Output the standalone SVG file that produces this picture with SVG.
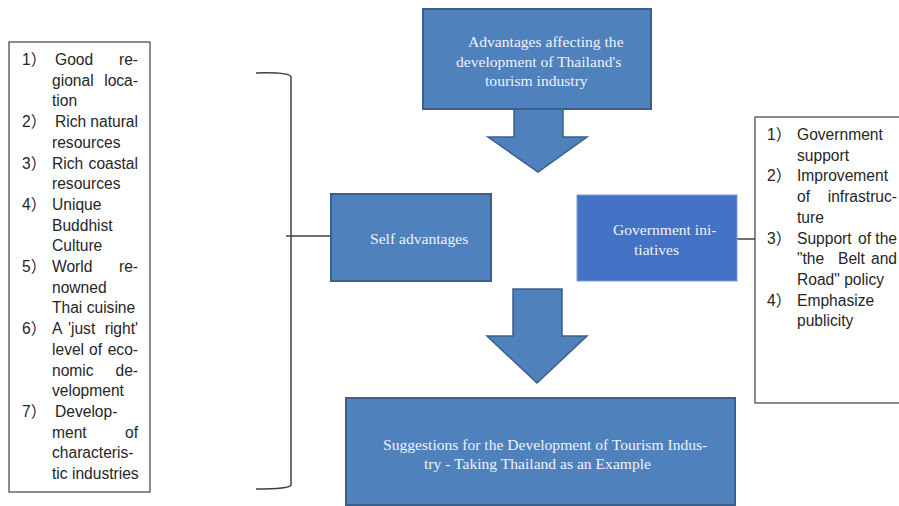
<svg xmlns="http://www.w3.org/2000/svg" width="899" height="506" viewBox="0 0 899 506">
<style>
.bx{fill:#4F81BD;stroke:#3A5F8C;stroke-width:2}
.gv{fill:#4472C4;stroke:#7C9BD6;stroke-width:1}
.ar{fill:#4F81BD;stroke:#3A5F8C;stroke-width:1.5;stroke-linejoin:miter}
.lb{fill:#fff;stroke:#404040;stroke-width:1.2}
.st{font-family:"Liberation Serif","Times New Roman",serif;font-size:15.6px;fill:#EEF2F9}
.t{font-family:"Liberation Sans",Arial,"Noto Sans CJK SC",sans-serif;font-size:15.6px;fill:#262626}
.n{font-family:"Liberation Sans","Noto Sans CJK SC",sans-serif;font-size:15.6px;fill:#262626}
.e{text-anchor:end}
.ln{fill:none;stroke:#404040;stroke-width:1.5}
</style>
<g id="connectors">
<path class="ln" d="M256,73 Q290,72 291,77 L291,485 Q290,489 256,489"/>
<line class="ln" x1="286" y1="236" x2="331" y2="236"/>
<line class="ln" x1="737" y1="239" x2="756" y2="239"/>
<polygon class="ar" points="514,109 563,109 563,137 587,137 538,172 488,137 514,137"/>
<polygon class="ar" points="513,289 562,289 562,336 587,336 537,383 487,336 513,336"/>
</g>
<g id="node-top">
<rect class="bx" x="423" y="9" width="228" height="100"/>
<text class="st" x="468" y="47">Advantages affecting the</text>
<text class="st" x="456" y="67">development of Thailand's</text>
<text class="st" x="485" y="86">tourism industry</text>
</g>
<g id="node-self">
<rect class="bx" x="331" y="194" width="160" height="87"/>
<text class="st" x="370" y="244">Self advantages</text>
</g>
<g id="node-gov">
<rect class="gv" x="577" y="195" width="160" height="86"/>
<text class="st" x="613" y="235">Government ini-</text>
<text class="st" x="634" y="255">tiatives</text>
</g>
<g id="node-bottom">
<rect class="bx" x="346" y="398" width="389" height="107"/>
<text class="st" x="383" y="450">Suggestions for the Development of Tourism Indus-</text>
<text class="st" x="424" y="469">try - Taking Thailand as an Example</text>
</g>
<g id="node-left">
<rect class="lb" x="9" y="42" width="141" height="450"/>
<text class="n" x="22" y="65">1）</text><text class="t" x="55" y="65">Good</text><text class="t e" x="138" y="65">re-</text>
<text class="t" x="52" y="85.7">gional</text><text class="t e" x="138" y="85.7">loca-</text>
<text class="t" x="52" y="106.4">tion</text>
<text class="n" x="22" y="127.1">2）</text><text class="t" x="55" y="127.1">Rich</text><text class="t e" x="138" y="127.1">natural</text>
<text class="t" x="52" y="147.8">resources</text>
<text class="n" x="22" y="168.5">3）</text><text class="t" x="52" y="168.5">Rich</text><text class="t e" x="138" y="168.5">coastal</text>
<text class="t" x="52" y="189.2">resources</text>
<text class="n" x="22" y="209.9">4）</text><text class="t" x="52" y="209.9">Unique</text>
<text class="t" x="52" y="230.6">Buddhist</text>
<text class="t" x="52" y="251.3">Culture</text>
<text class="n" x="22" y="272">5）</text><text class="t" x="52" y="272">World</text><text class="t e" x="138" y="272">re-</text>
<text class="t" x="52" y="292.7">nowned</text>
<text class="t" x="52" y="313.4">Thai cuisine</text>
<text class="n" x="22" y="334.1">6）</text><text class="t" x="52" y="334.1">A</text><text class="t" x="68" y="334.1">'just</text><text class="t e" x="138" y="334.1">right'</text>
<text class="t" x="52" y="354.8">level</text><text class="t" x="89" y="354.8">of</text><text class="t e" x="138" y="354.8">eco-</text>
<text class="t" x="52" y="375.5">nomic</text><text class="t e" x="138" y="375.5">de-</text>
<text class="t" x="52" y="396.2">velopment</text>
<text class="n" x="22" y="416.9">7）</text><text class="t" x="55" y="416.9">Develop-</text>
<text class="t" x="52" y="437.6">ment</text><text class="t e" x="138" y="437.6">of</text>
<text class="t" x="52" y="458.3">characteris-</text>
<text class="t" x="52" y="479">tic industries</text>
</g>
<g id="node-right">
<rect class="lb" x="755" y="117" width="150" height="286"/>
<text class="n" x="767" y="140">1）</text><text class="t" x="797" y="140">Government</text>
<text class="t" x="797" y="160.7">support</text>
<text class="n" x="767" y="181.4">2）</text><text class="t" x="797" y="181.4">Improvement</text>
<text class="t" x="797" y="202.1">of</text><text class="t e" x="897" y="202.1">infrastruc-</text>
<text class="t" x="797" y="222.8">ture</text>
<text class="n" x="767" y="243.5">3）</text><text class="t" x="797" y="243.5">Support</text><text class="t" x="858" y="243.5">of</text><text class="t e" x="897" y="243.5">the</text>
<text class="t" x="797" y="264.2">"the</text><text class="t" x="838" y="264.2">Belt</text><text class="t e" x="897" y="264.2">and</text>
<text class="t" x="797" y="284.9">Road" policy</text>
<text class="n" x="767" y="305.6">4）</text><text class="t" x="797" y="305.6">Emphasize</text>
<text class="t" x="797" y="326.3">publicity</text>
</g>
</svg>
